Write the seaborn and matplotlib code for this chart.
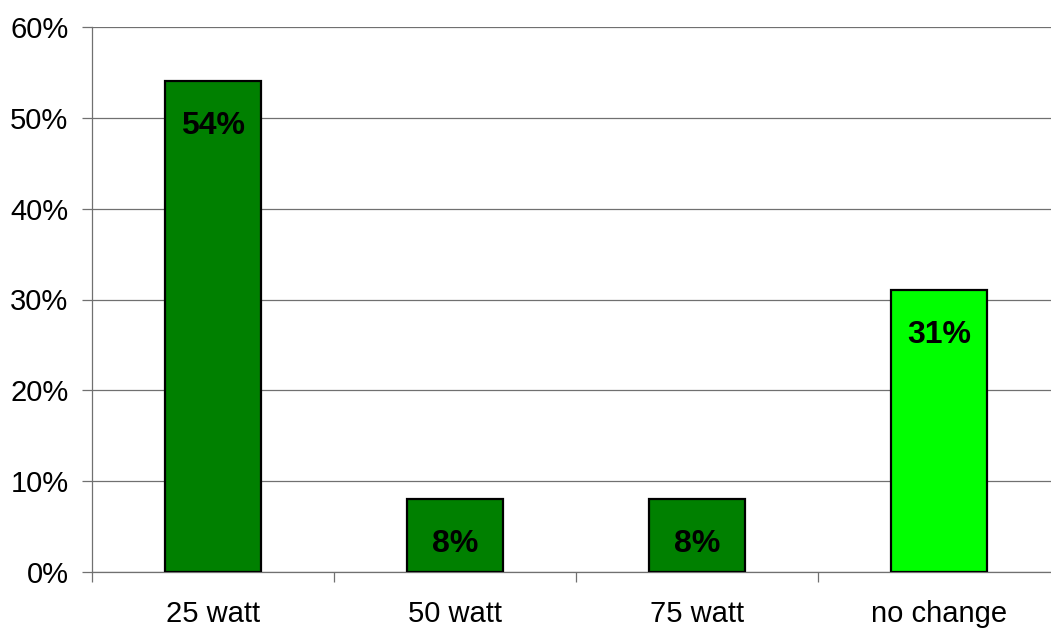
import matplotlib
matplotlib.use("Agg")
import matplotlib.pyplot as plt
import seaborn as sns
import pandas as pd
import numpy as np
from matplotlib.ticker import FixedLocator, FuncFormatter

categories = ["25 watt", "50 watt", "75 watt", "no change"]
shares = [54, 8, 8, 31]
bar_colors = ["#008000", "#008000", "#008000", "#00FF00"]
y_ticks = [0, 10, 20, 30, 40, 50, 60]

df = pd.DataFrame({"category": categories, "share": shares})

sns.set_style("white")
plt.rcParams["font.family"] = ["Liberation Sans", "DejaVu Sans"]
plt.rcParams["text.color"] = "black"
plt.rcParams["xtick.color"] = "black"
plt.rcParams["ytick.color"] = "black"

fig = plt.figure(figsize=(10.51, 6.30), dpi=100)
ax = fig.add_axes([92 / 1051, 58 / 630, 968 / 1051, 545 / 630])

sns.barplot(data=df, x="category", y="share", hue="category",
            palette=bar_colors, saturation=1, width=0.4, edgecolor="black",
            linewidth=1.6, legend=False, ax=ax, zorder=3)

ax.set_xlim(-0.5, len(categories) - 0.5)
ax.set_ylim(0, 60)
ax.yaxis.set_major_locator(FixedLocator(y_ticks))
ax.yaxis.set_major_formatter(FuncFormatter(lambda v, _: f"{v:.0f}%"))
ax.grid(axis="y", color="#707070", linewidth=0.9, zorder=0)
ax.set_axisbelow(True)

for side in ("top", "right"):
    ax.spines[side].set_visible(False)
for side in ("left", "bottom"):
    ax.spines[side].set_color("#707070")
    ax.spines[side].set_linewidth(0.9)

ax.set_xlabel("")
ax.set_ylabel("")
ax.tick_params(axis="y", which="major", direction="out", length=7,
               width=0.9, color="#707070", labelcolor="black", pad=10,
               labelsize=21, left=True)
ax.tick_params(axis="x", which="major", length=0, pad=20, labelsize=21,
               labelcolor="black")
ax.xaxis.set_minor_locator(FixedLocator(np.arange(-0.5, len(categories), 1.0)))
ax.tick_params(axis="x", which="minor", direction="out", length=7,
               width=0.9, color="#707070", bottom=True)

for i, v in enumerate(shares):
    ax.annotate(f"{v}%", xy=(i, v), xytext=(0, -32), textcoords="offset points",
                ha="center", va="center", fontsize=23, fontweight="bold",
                color="black", zorder=4)

fig.savefig("out.png", dpi=100)
